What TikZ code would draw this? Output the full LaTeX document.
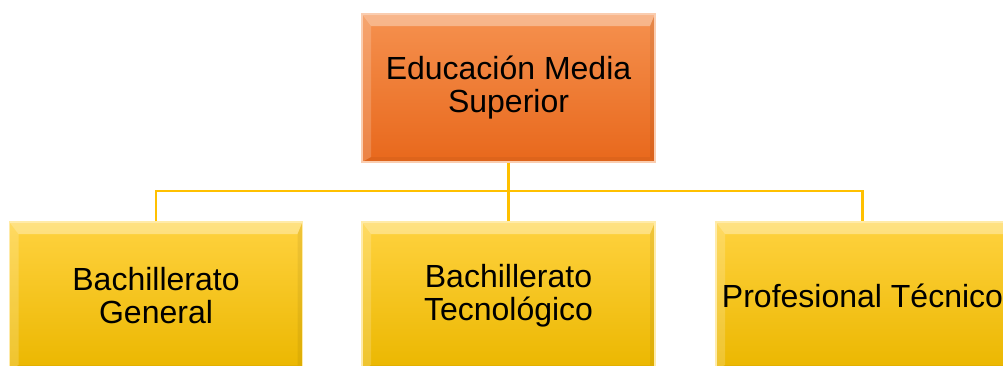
\documentclass[tikz,border=0pt]{standalone}
\usepackage{fontspec}
\setmainfont{Liberation Sans}
\definecolor{orTop}{HTML}{F5914F}
\definecolor{orBot}{HTML}{E8681C}
\definecolor{yeTop}{HTML}{FFD23F}
\definecolor{yeBot}{HTML}{EBB700}
\definecolor{connC}{HTML}{FFC000}
\tikzset{
  bevel/.style={
    minimum width=293pt, minimum height=148pt, inner sep=0pt,
    align=center, font=\fontsize{32}{33}\selectfont,
    path picture={
      \def\bt{12pt}\def\bl{9pt}\def\br{5pt}\def\bb{5pt}
      \fill[white,opacity=.35] (path picture bounding box.north west) -- (path picture bounding box.north east)
        -- ([shift={(-\br,-\bt)}]path picture bounding box.north east) -- ([shift={(\bl,-\bt)}]path picture bounding box.north west) -- cycle;
      \fill[white,opacity=.18] (path picture bounding box.north west) -- ([shift={(\bl,-\bt)}]path picture bounding box.north west)
        -- ([shift={(\bl,\bb)}]path picture bounding box.south west) -- (path picture bounding box.south west) -- cycle;
      \fill[black,opacity=.06] (path picture bounding box.north east) -- ([shift={(-\br,-\bt)}]path picture bounding box.north east)
        -- ([shift={(-\br,\bb)}]path picture bounding box.south east) -- (path picture bounding box.south east) -- cycle;
      \fill[black,opacity=.04] (path picture bounding box.south west) -- ([shift={(\bl,\bb)}]path picture bounding box.south west)
        -- ([shift={(-\br,\bb)}]path picture bounding box.south east) -- (path picture bounding box.south east) -- cycle;
    }},
  orbox/.style={bevel, top color=orTop, bottom color=orBot, draw=orTop!45!white, line width=1.2pt},
  yebox/.style={bevel, top color=yeTop, bottom color=yeBot, draw=yeTop!45!white, line width=1.2pt},
  conn/.style={draw=connC, line width=2.2pt}
}
\begin{document}
\begin{tikzpicture}[x=1pt,y=-1pt]
\useasboundingbox (0,0) rectangle (1003,365);
\clip (0,0) rectangle (1003,365);
\node[orbox] (top) at (508.5,88) {Educación Media\\Superior};
\node[yebox] (left) at (156,296) {Bachillerato\\General};
\node[yebox] (mid) at (508.5,296) {Bachillerato\\Tecnológico};
\node[yebox] (right) at (862.5,296) {Profesional Técnico};
\coordinate (hub) at (508.5,191);
\draw[conn] (top.south) -- (mid.north);
\draw[conn] (left.north) |- (hub) -| (right.north);
\end{tikzpicture}
\end{document}
